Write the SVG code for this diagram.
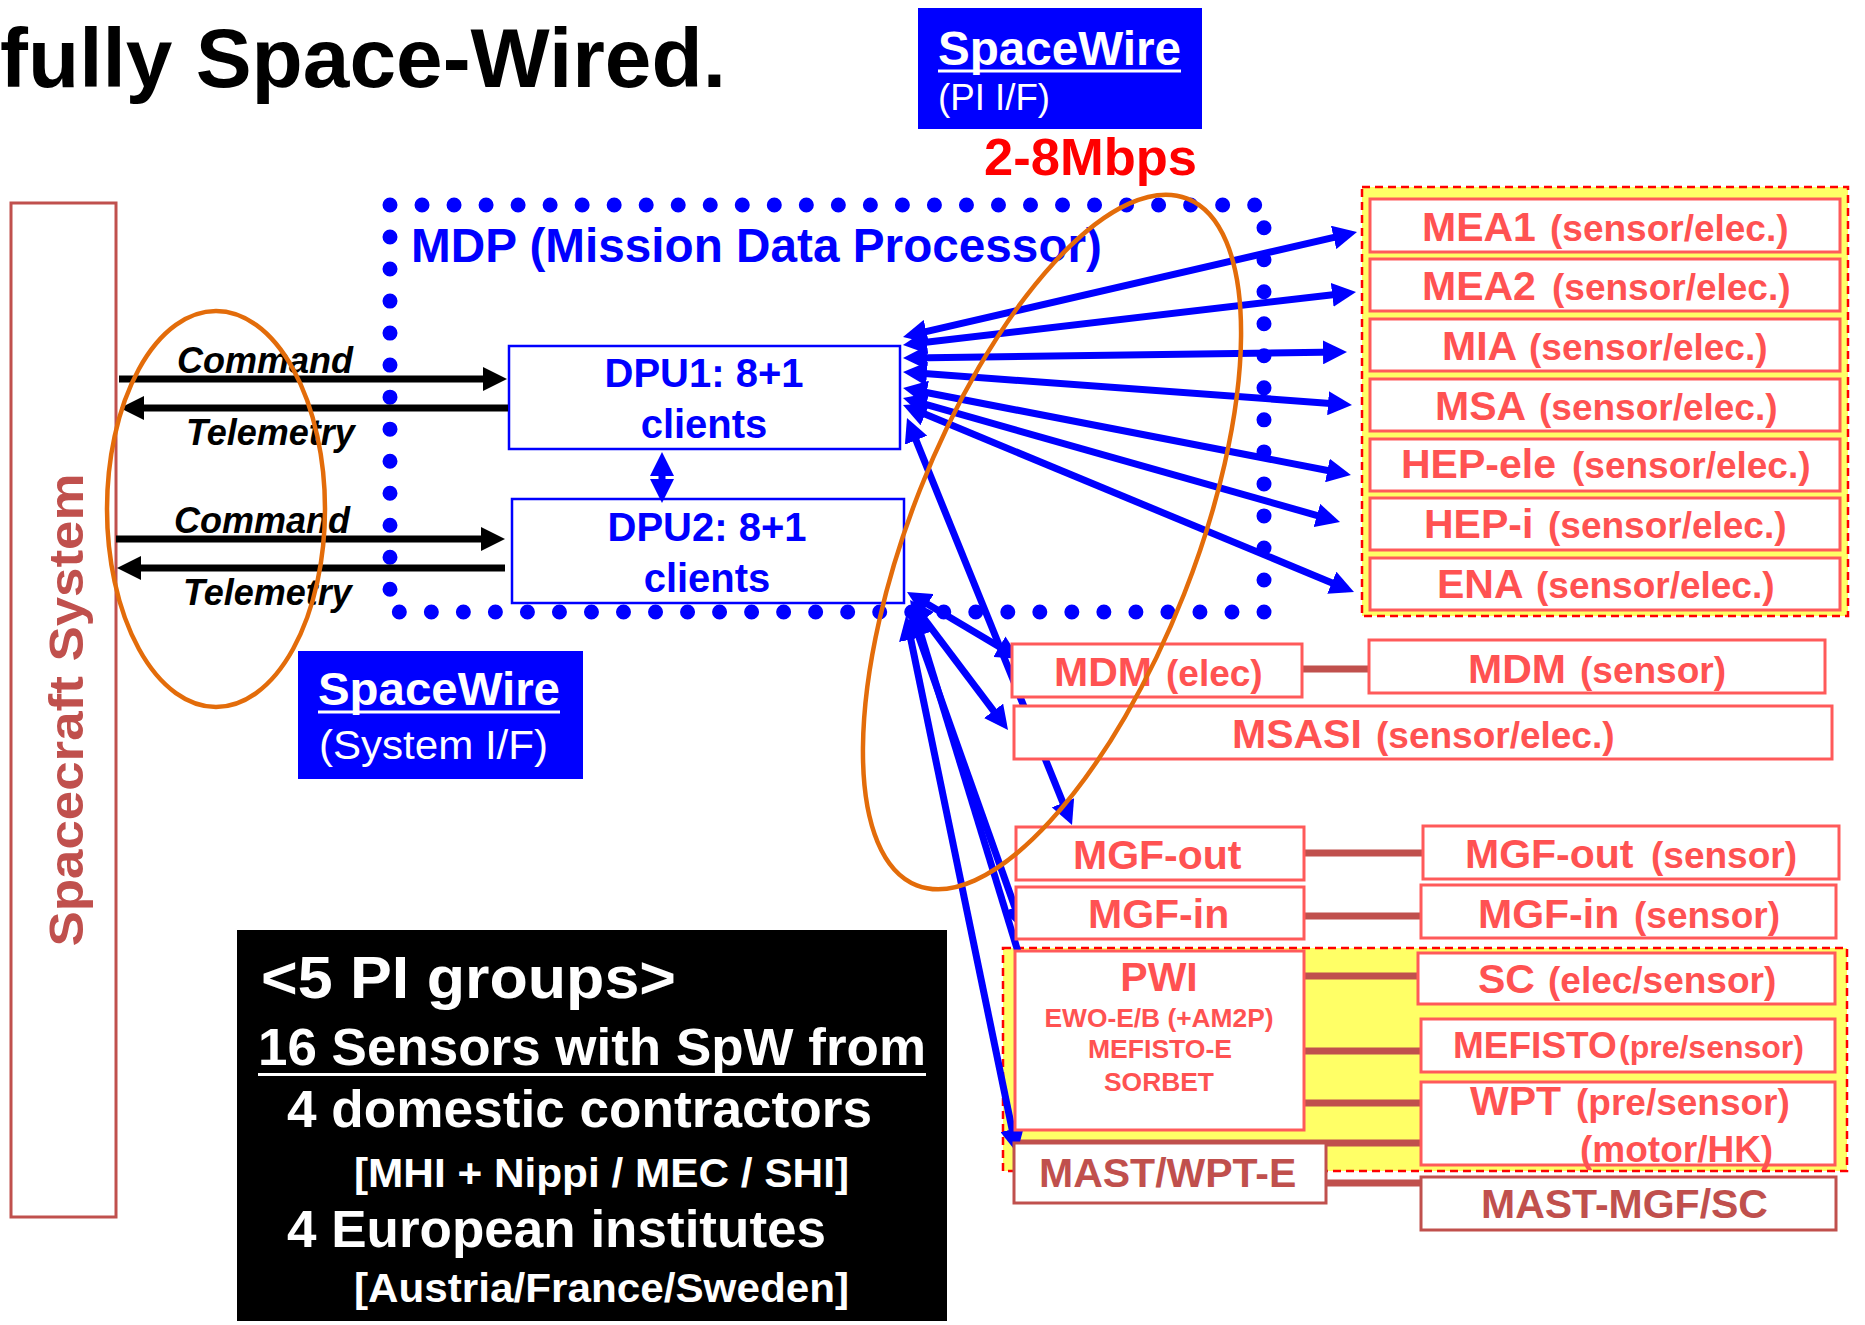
<svg xmlns="http://www.w3.org/2000/svg" width="1865" height="1325" viewBox="0 0 1865 1325">
<defs>
<marker id="ab" viewBox="0 0 24 24" refX="16" refY="12" markerWidth="24" markerHeight="24" markerUnits="userSpaceOnUse" orient="auto-start-reverse"><path d="M0,0 L24,12 L0,24 z" fill="#0000FF"/></marker>
<marker id="ak" viewBox="0 0 24 24" refX="16" refY="12" markerWidth="24" markerHeight="24" markerUnits="userSpaceOnUse" orient="auto-start-reverse"><path d="M0,0 L24,12 L0,24 z" fill="#000000"/></marker>
</defs>
<style>
text{font-family:"Liberation Sans",Arial,sans-serif}
.nm{font-weight:bold;font-size:41px;fill:#FF5252}
.ds{font-weight:bold;font-size:37px;fill:#FF5252}
.mt{font-weight:bold;font-size:41px;fill:#C0504D}
.box{fill:#FFFFFF;stroke:#FF5A5A;stroke-width:3}
.mbox{fill:#FFFFFF;stroke:#C0504D;stroke-width:3}
.grp{fill:#FFFF66;stroke:#FF0000;stroke-width:2.5;stroke-dasharray:8 5}
.blu{stroke:#0000FF;stroke-width:7;fill:none;marker-start:url(#ab);marker-end:url(#ab)}
.blk{stroke:#000000;stroke-width:7;fill:none;marker-end:url(#ak)}
.con{stroke:#C0504D;stroke-width:7}
.orng{fill:none;stroke:#E36C0A;stroke-width:4.5}
.cmd{font-weight:bold;font-style:italic;font-size:36px;fill:#000000}
.wt{fill:#FFFFFF;font-weight:bold}
.dpu{fill:#0000FF;font-weight:bold;font-size:40px;text-anchor:middle}
.pw{font-weight:bold;font-size:25px;fill:#FF5252;text-anchor:middle}
</style>
<rect width="1865" height="1325" fill="#FFFFFF"/>

<text id="title" x="0" y="87" font-weight="bold" font-size="84" fill="#000000" textLength="726" lengthAdjust="spacingAndGlyphs">fully Space-Wired.</text>

<g id="spw-pi">
<rect x="918" y="8" width="284" height="121" fill="#0000FF"/>
<text class="wt" x="938" y="65" font-size="48" textLength="243" lengthAdjust="spacingAndGlyphs">SpaceWire</text>
<rect x="938" y="69.5" width="243" height="3" fill="#FFFFFF"/>
<text x="938" y="110" font-size="37" fill="#FFFFFF" textLength="112" lengthAdjust="spacingAndGlyphs">(PI I/F)</text>
</g>
<text id="rate" x="984" y="175" font-weight="bold" font-size="52" fill="#FF0000" textLength="213" lengthAdjust="spacingAndGlyphs">2-8Mbps</text>

<g id="spacecraft">
<rect x="11" y="203" width="105" height="1014" fill="#FFFFFF" stroke="#C0504D" stroke-width="3"/>
<text transform="translate(83,710) rotate(-90)" text-anchor="middle" font-weight="bold" font-size="49" fill="#C0504D" textLength="473" lengthAdjust="spacingAndGlyphs">Spacecraft System</text>
</g>

<g id="mdp">
<rect x="390" y="205" width="874" height="407" fill="none" stroke="#0000FF" stroke-width="15" stroke-linecap="round" stroke-dasharray="0 32.025"/>
<text x="411" y="262" font-weight="bold" font-size="47.5" fill="#0000FF" textLength="691" lengthAdjust="spacingAndGlyphs">MDP (Mission Data Processor)</text>
</g>

<g id="dpu1">
<rect x="509" y="346" width="391" height="103" fill="#FFFFFF" stroke="#0000FF" stroke-width="2.5"/>
<text class="dpu" x="704" y="387">DPU1: 8+1</text>
<text class="dpu" x="704" y="438">clients</text>
</g>
<g id="dpu2">
<rect x="512" y="499" width="392" height="104" fill="#FFFFFF" stroke="#0000FF" stroke-width="2.5"/>
<text class="dpu" x="707" y="541">DPU2: 8+1</text>
<text class="dpu" x="707" y="592">clients</text>
</g>

<g id="spw-sys">
<rect x="298" y="651" width="285" height="128" fill="#0000FF"/>
<text class="wt" x="318" y="705" font-size="47" textLength="242" lengthAdjust="spacingAndGlyphs">SpaceWire</text>
<rect x="318" y="710.5" width="242" height="3" fill="#FFFFFF"/>
<text x="319" y="759" font-size="40" fill="#FFFFFF" textLength="229" lengthAdjust="spacingAndGlyphs">(System I/F)</text>
</g>

<g id="mea-group">
<rect class="grp" x="1362" y="187" width="486" height="429"/>
<g id="mea1"><rect class="box" x="1370" y="199" width="470" height="53"/><text y="241"><tspan class="nm" x="1422">MEA1</tspan><tspan class="ds" x="1550">(sensor/elec.)</tspan></text></g>
<g id="mea2"><rect class="box" x="1370" y="259" width="470" height="52"/><text y="300"><tspan class="nm" x="1422">MEA2</tspan><tspan class="ds" x="1552">(sensor/elec.)</tspan></text></g>
<g id="mia"><rect class="box" x="1370" y="319" width="470" height="52"/><text y="360"><tspan class="nm" x="1442">MIA</tspan><tspan class="ds" x="1529">(sensor/elec.)</tspan></text></g>
<g id="msa"><rect class="box" x="1370" y="379" width="470" height="52"/><text y="420"><tspan class="nm" x="1435">MSA</tspan><tspan class="ds" x="1539">(sensor/elec.)</tspan></text></g>
<g id="hep-ele"><rect class="box" x="1370" y="439" width="470" height="52"/><text y="478"><tspan class="nm" x="1401">HEP-ele</tspan><tspan class="ds" x="1572">(sensor/elec.)</tspan></text></g>
<g id="hep-i"><rect class="box" x="1370" y="498" width="470" height="52"/><text y="538"><tspan class="nm" x="1424">HEP-i</tspan><tspan class="ds" x="1548">(sensor/elec.)</tspan></text></g>
<g id="ena"><rect class="box" x="1370" y="558" width="470" height="52"/><text y="598"><tspan class="nm" x="1437">ENA</tspan><tspan class="ds" x="1536">(sensor/elec.)</tspan></text></g>
</g>

<g id="pwi-group"><rect class="grp" x="1003" y="948" width="844" height="223"/></g>

<g id="connectors">
<line class="con" x1="1302" y1="669" x2="1369" y2="669"/>
<line class="con" x1="1304" y1="853" x2="1423" y2="853"/>
<line class="con" x1="1304" y1="916" x2="1421" y2="916"/>
<line class="con" x1="1304" y1="976" x2="1418" y2="976"/>
<line class="con" x1="1304" y1="1051" x2="1421" y2="1051"/>
<line class="con" x1="1304" y1="1103" x2="1421" y2="1103"/>
<line class="con" x1="1018" y1="1143" x2="1421" y2="1143"/>
<line class="con" x1="1326" y1="1183" x2="1421" y2="1183"/>

<line class="blk" x1="119" y1="379" x2="499" y2="379"/>
<line class="blk" x1="508" y1="408" x2="128" y2="408"/>
<line class="blk" x1="116" y1="539" x2="497" y2="539"/>
<line class="blk" x1="505" y1="568" x2="125" y2="568"/>

<line class="blu" stroke-width="6" x1="662" y1="460" x2="662" y2="495"/>

<line class="blu" x1="910.8" y1="335.2" x2="1349.2" y2="233.8"/>
<line class="blu" x1="910.9" y1="344.1" x2="1348.1" y2="292.9"/>
<line class="blu" x1="911" y1="357.9" x2="1339" y2="352.1"/>
<line class="blu" x1="911" y1="372.6" x2="1344" y2="404.4"/>
<line class="blu" x1="910.9" y1="389.5" x2="1343.1" y2="473.5"/>
<line class="blu" x1="910.7" y1="400.2" x2="1332.3" y2="519.8"/>
<line class="blu" x1="910.4" y1="408.1" x2="1346.6" y2="588.9"/>
<line class="blu" x1="910" y1="425.4" x2="1069" y2="817.6"/>
<line class="blu" x1="913.9" y1="596.1" x2="1013.1" y2="654.9"/>
<line class="blu" x1="914.8" y1="606.4" x2="1003.2" y2="723.6"/>
<line class="blu" x1="912.7" y1="619.5" x2="1020.3" y2="922.5"/>
<line class="blu" x1="916.3" y1="619.6" x2="1034.7" y2="1006.4"/>
<line class="blu" x1="907.6" y1="623.8" x2="1015.4" y2="1145.2"/>
</g>

<g id="labels">
<text class="cmd" x="177" y="373">Command</text>
<text class="cmd" x="186" y="445">Telemetry</text>
<text class="cmd" x="174" y="533">Command</text>
<text class="cmd" x="183" y="605">Telemetry</text>
</g>

<g id="mdm-elec"><rect class="box" x="1012" y="644" width="290" height="53"/><text y="686"><tspan class="nm" x="1054">MDM</tspan><tspan class="ds" x="1166">(elec)</tspan></text></g>
<g id="mdm-sensor"><rect class="box" x="1369" y="640" width="456" height="53"/><text y="683"><tspan class="nm" x="1468">MDM</tspan><tspan class="ds" x="1580">(sensor)</tspan></text></g>
<g id="msasi"><rect class="box" x="1014" y="706" width="818" height="53"/><text y="748"><tspan class="nm" x="1232">MSASI</tspan><tspan class="ds" x="1376">(sensor/elec.)</tspan></text></g>

<g id="mgf-out"><rect class="box" x="1016" y="827" width="288" height="53"/><text class="nm" x="1073" y="869">MGF-out</text></g>
<g id="mgf-out-sensor"><rect class="box" x="1423" y="826" width="416" height="53"/><text y="868"><tspan class="nm" x="1465">MGF-out</tspan><tspan class="ds" x="1651">(sensor)</tspan></text></g>
<g id="mgf-in"><rect class="box" x="1016" y="887" width="288" height="52"/><text class="nm" x="1088" y="928">MGF-in</text></g>
<g id="mgf-in-sensor"><rect class="box" x="1421" y="885" width="415" height="53"/><text y="928"><tspan class="nm" x="1478">MGF-in</tspan><tspan class="ds" x="1634">(sensor)</tspan></text></g>

<g id="pwi"><rect class="box" x="1015" y="951" width="289" height="179"/>
<text class="nm" x="1159" y="991" text-anchor="middle">PWI</text>
<text class="pw" x="1159" y="1027" textLength="229" lengthAdjust="spacingAndGlyphs">EWO-E/B (+AM2P)</text>
<text class="pw" x="1160" y="1058" textLength="144" lengthAdjust="spacingAndGlyphs">MEFISTO-E</text>
<text class="pw" x="1159" y="1091" textLength="110" lengthAdjust="spacingAndGlyphs">SORBET</text>
</g>
<g id="sc"><rect class="box" x="1418" y="953" width="417" height="51"/><text y="993"><tspan class="nm" x="1478">SC</tspan><tspan class="ds" x="1548">(elec/sensor)</tspan></text></g>
<g id="mefisto"><rect class="box" x="1421" y="1019" width="414" height="53"/><text y="1058"><tspan class="nm" x="1453" style="font-size:37px">MEFISTO</tspan><tspan class="ds" x="1619" style="font-size:32px">(pre/sensor)</tspan></text></g>
<g id="wpt"><rect class="box" x="1421" y="1082" width="414" height="83"/><text y="1115"><tspan class="nm" x="1470">WPT</tspan><tspan class="ds" x="1576">(pre/sensor)</tspan></text><text class="ds" x="1580" y="1162">(motor/HK)</text></g>

<g id="mast-wpt-e"><rect class="mbox" x="1014" y="1143" width="312" height="60"/><text class="mt" x="1039" y="1187">MAST/WPT-E</text></g>
<g id="mast-mgf-sc"><rect class="mbox" x="1421" y="1177" width="415" height="53"/><text class="mt" x="1481" y="1218">MAST-MGF/SC</text></g>

<g id="pi-groups">
<rect x="237" y="930" width="710" height="391" fill="#000000"/>
<text class="wt" x="261" y="998" font-size="60" textLength="415" lengthAdjust="spacingAndGlyphs">&lt;5 PI groups&gt;</text>
<text class="wt" x="258" y="1065" font-size="51" textLength="668" lengthAdjust="spacingAndGlyphs">16 Sensors with SpW from</text>
<rect x="258" y="1073" width="668" height="3" fill="#FFFFFF"/>
<text class="wt" x="287" y="1127" font-size="51" textLength="585" lengthAdjust="spacingAndGlyphs">4 domestic contractors</text>
<text class="wt" x="354" y="1187" font-size="40" textLength="495" lengthAdjust="spacingAndGlyphs">[MHI + Nippi / MEC / SHI]</text>
<text class="wt" x="287" y="1247" font-size="51" textLength="539" lengthAdjust="spacingAndGlyphs">4 European institutes</text>
<text class="wt" x="354" y="1302" font-size="41" textLength="495" lengthAdjust="spacingAndGlyphs">[Austria/France/Sweden]</text>
</g>

<g id="highlights">
<ellipse class="orng" cx="216" cy="509" rx="109" ry="198"/>
<ellipse class="orng" cx="1052" cy="542" rx="142" ry="369" transform="rotate(21.5 1052 542)"/>
</g>
</svg>
